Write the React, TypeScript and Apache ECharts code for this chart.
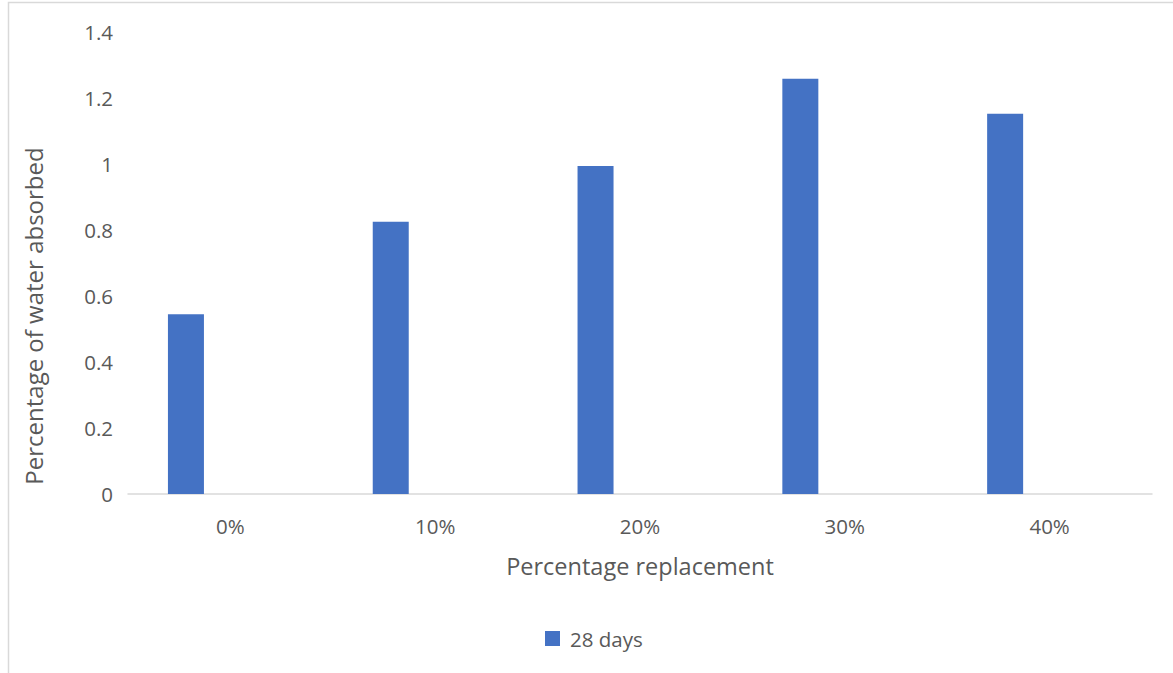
import React, { useEffect, useRef } from "react";
import * as echarts from "echarts";

// Replacement levels on the x axis
const categories = ["0%", "10%", "20%", "30%", "40%"];
// Water absorption (%) after 28 days of curing
const days28 = [0.545, 0.825, 0.994, 1.258, 1.152];
const seriesName = "28 days";
const yTicks = { min: 0, max: 1.4, interval: 0.2 };

const FONT = "'Open Sans', 'Liberation Sans', sans-serif";
const TEXT = "#595959";

export default function App() {
  const ref = useRef<HTMLDivElement>(null);

  useEffect(() => {
    if (!ref.current) return;
    const chart = echarts.init(ref.current, null, { renderer: "svg" });
    chart.setOption({
      animation: false,
      backgroundColor: "#ffffff",
      textStyle: { fontFamily: FONT, color: TEXT },
      grid: { left: 128, right: 21, top: 32, bottom: 179, containLabel: false },
      legend: {
        data: [seriesName],
        left: 540,
        top: 623,
        itemWidth: 15,
        itemHeight: 15,
        itemGap: 10,
        icon: "rect",
        textStyle: { fontFamily: FONT, fontSize: 20.5, color: TEXT, padding: [0, 0, 0, 5] },
      },
      xAxis: {
        type: "category",
        data: categories,
        name: "Percentage replacement",
        nameLocation: "middle",
        nameGap: 60,
        nameTextStyle: { fontFamily: FONT, fontSize: 23.5, color: TEXT },
        axisLine: { lineStyle: { color: "#d9d9d9", width: 1.5 } },
        axisTick: { show: false },
        axisLabel: { margin: 21, fontFamily: FONT, fontSize: 20.5, color: TEXT },
      },
      yAxis: {
        type: "value",
        min: yTicks.min,
        max: yTicks.max,
        interval: yTicks.interval,
        splitLine: { show: false },
        axisLine: { show: false },
        axisTick: { show: false },
        axisLabel: {
          margin: 15,
          fontFamily: FONT,
          fontSize: 20.5,
          color: TEXT,
          formatter: (v: number) => String(Math.round(v * 10) / 10),
        },
      },
      graphic: [
        {
          type: "rect",
          shape: { x: 8.5, y: 2.5, width: 1300, height: 800 },
          style: { fill: "none", stroke: "#d9d9d9", lineWidth: 1.5 },
          silent: true,
        },
        {
          type: "text",
          x: 33,
          y: 316,
          rotation: Math.PI / 2,
          style: {
            text: "Percentage of water absorbed",
            fontFamily: FONT,
            fontSize: 24,
            fill: TEXT,
            align: "center",
            verticalAlign: "middle",
          },
        },
      ],
      series: [
        {
          name: seriesName,
          type: "bar",
          data: days28,
          barWidth: 36,
          barGap: "147%",
          itemStyle: { color: "#4472c4" },
        },
        {
          name: "empty",
          type: "bar",
          data: [],
          barWidth: 36,
        },
      ],
    });
    return () => chart.dispose();
  }, []);

  return (
    <div
      ref={ref}
      style={{ position: "fixed", left: 0, top: 0, width: 1173, height: 673 }}
    />
  );
}
